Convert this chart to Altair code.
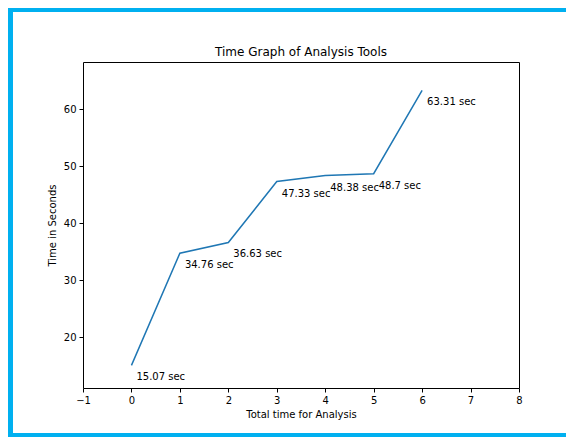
import altair as alt
import pandas as pd

# Data
steps = [0, 1, 2, 3, 4, 5, 6]
times = [15.07, 34.76, 36.63, 47.33, 48.38, 48.7, 63.31]
labels = ["15.07 sec", "34.76 sec", "36.63 sec", "47.33 sec", "48.38 sec", "48.7 sec", "63.31 sec"]
x_ticks = [-1, 0, 1, 2, 3, 4, 5, 6, 7, 8]
y_ticks = [20, 30, 40, 50, 60]
title_text = "Time Graph of Analysis Tools"

df = pd.DataFrame({"step": steps, "time": times, "label": labels})

FONT = "DejaVu Sans"
FRAME = "#00b0f0"
W, H = 436, 326

x_enc = alt.X(
    "step:Q",
    scale=alt.Scale(domain=[-1, 8], nice=False, zero=False),
    axis=alt.Axis(
        values=x_ticks, title="Total time for Analysis", grid=False, domain=False,
        tickColor="black", tickSize=4, labelPadding=3, titlePadding=4,
        labelFontSize=10, titleFontSize=10, labelColor="black", titleColor="black",
        titleFontWeight="normal", format="d", labelFlush=False,
    ),
)
y_enc = alt.Y(
    "time:Q",
    scale=alt.Scale(domain=[11.1, 68.3], nice=False, zero=False),
    axis=alt.Axis(
        values=y_ticks, title="Time in Seconds", grid=False, domain=False,
        tickColor="black", tickSize=4, labelPadding=3, titlePadding=6,
        labelFontSize=10, titleFontSize=10, labelColor="black", titleColor="black",
        titleFontWeight="normal", labelFlush=False,
    ),
)

base = alt.Chart(df)

line = base.mark_line(color="#1f77b4", strokeWidth=1.5).encode(x=x_enc, y=y_enc)

text = base.mark_text(
    align="left", baseline="middle", dx=5, dy=12, fontSize=10, color="black", font=FONT
).encode(x="step:Q", y="time:Q", text="label:N")

dummy = pd.DataFrame({"a": [0]})
title_mark = alt.Chart(dummy).mark_text(
    align="center", baseline="alphabetic", fontSize=12, color="black", font=FONT
).encode(x=alt.value(W / 2), y=alt.value(-6), text=alt.value(title_text))

left_bar = alt.Chart(dummy).mark_rect(color=FRAME).encode(
    x=alt.value(-75), x2=alt.value(-70), y=alt.value(-54), y2=alt.value(375)
)
top_bar = alt.Chart(dummy).mark_rect(color=FRAME).encode(
    x=alt.value(-75), x2=alt.value(483), y=alt.value(-54), y2=alt.value(-50)
)
bottom_bar = alt.Chart(dummy).mark_rect(color=FRAME).encode(
    x=alt.value(-75), x2=alt.value(483), y=alt.value(371), y2=alt.value(375)
)

chart = (
    alt.layer(line, text, title_mark, left_bar, top_bar, bottom_bar)
    .properties(
        width=W,
        height=H,
        autosize=alt.AutoSizeParams(type="none"),
        padding={"left": 75, "top": 54, "right": 47, "bottom": 49},
    )
    .configure(font=FONT)
    .configure_view(stroke="black", strokeWidth=1)
)

chart.save("out.html", embed_options={"renderer": "svg", "actions": False})
